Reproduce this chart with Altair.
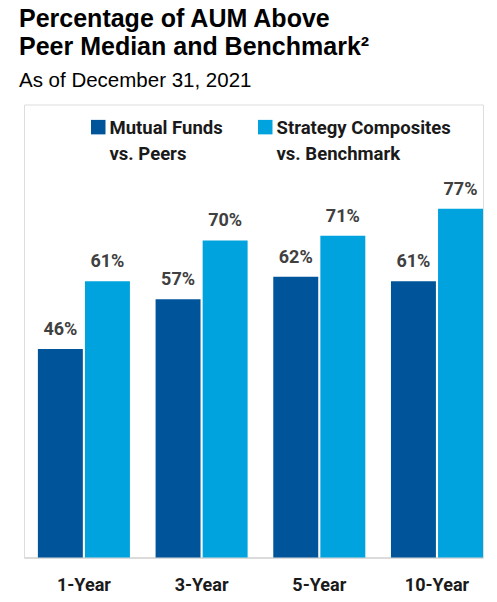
import altair as alt
import pandas as pd

periods = ["1-Year", "3-Year", "5-Year", "10-Year"]
series = ["Mutual Funds vs. Peers", "Strategy Composites vs. Benchmark"]
mutual_funds = [46, 57, 62, 61]
strategy_composites = [61, 70, 71, 77]
colors = ["#00559A", "#00A3DE"]

rows = []
for i, p in enumerate(periods):
    rows.append({"period": p, "series": series[0], "value": mutual_funds[i]})
    rows.append({"period": p, "series": series[1], "value": strategy_composites[i]})
df = pd.DataFrame(rows)

NARROW = "Roboto, Liberation Sans, Arial, sans-serif"
SANS = "Liberation Sans, Arial, Helvetica, sans-serif"

x = alt.X(
    "period:N",
    sort=periods,
    title=None,
    scale=alt.Scale(paddingInner=0.218, paddingOuter=0.059, align=1),
    axis=alt.Axis(
        labelAngle=0,
        labelFont=NARROW,
        labelFontSize=18,
        labelFontWeight="bold",
        labelColor="#1a1a1a",
        labelPadding=19,
        ticks=False,
        domainColor="#d4d4d4",
        domainWidth=1.5,
        grid=False,
    ),
)
xo = alt.XOffset("series:N", sort=series, scale=alt.Scale(paddingInner=0.045))
y = alt.Y("value:Q", scale=alt.Scale(domain=[0, 100]), axis=None)

bars = alt.Chart(df).mark_bar().encode(
    x=x,
    xOffset=xo,
    y=y,
    color=alt.Color(
        "series:N",
        sort=series,
        scale=alt.Scale(domain=series, range=colors),
        legend=alt.Legend(
            title=None,
            orient="none",
            legendX=65,
            legendY=20.5,
            direction="horizontal",
            columns=2,
            columnPadding=33,
            symbolType="M-1,-2H1V0H-1Z",
            symbolSize=210,
            symbolStrokeWidth=0,
            symbolOpacity=1,
            labelFont=NARROW,
            labelFontSize=18.5,
            labelFontWeight="bold",
            labelColor="#1a1a1a",
            labelLimit=300,
            labelOffset=2,
            labelBaseline="alphabetic",
            labelExpr="split(replace(datum.label, ' vs.', '|vs.'), '|')",
        ),
    ),
)

labels = alt.Chart(df).transform_calculate(
    label="datum.value + '%'"
).mark_text(
    baseline="alphabetic",
    dy=-14,
    font=NARROW,
    fontSize=18,
    fontWeight="bold",
    color="#404040",
).encode(
    x=x,
    xOffset=xo,
    y=y,
    text="label:N",
)

chart = (
    alt.layer(bars, labels)
    .properties(
        width=459,
        height=453,
        padding={"left": 16, "top": 96.5, "right": 2, "bottom": 40},
        autosize=alt.AutoSizeParams(type="none"),
        title=alt.TitleParams(
            text=["Percentage of AUM Above", "Peer Median and Benchmark²"],
            subtitle="As of December 31, 2021",
            anchor="start",
            frame="group",
            font=SANS,
            fontSize=25,
            fontWeight="bold",
            lineHeight=28.3,
            color="#000000",
            subtitleFont=SANS,
            subtitleFontSize=20.5,
            subtitleFontWeight="normal",
            subtitleColor="#000000",
            subtitlePadding=10.7,
            dx=-5,
            offset=13.5,
        ),
    )
    .configure_view(strokeWidth=0, stroke="transparent")
    .configure(style={"guide-label": {"lineHeight": 26}})
)

chart.save("out.html", embed_options={"renderer": "svg", "actions": False})
